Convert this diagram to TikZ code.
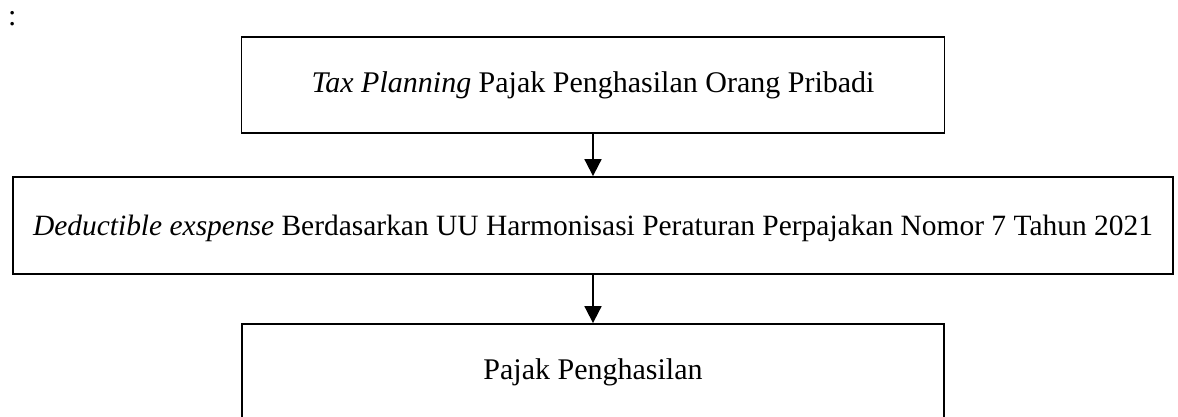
\documentclass[tikz,border=0pt]{standalone}
\usepackage{fontspec}
\setmainfont{Liberation Serif}
\usetikzlibrary{arrows.meta}
\begin{document}
\begin{tikzpicture}[x=1pt,y=-1pt,
  flowbox/.style={draw=black,line width=1.8pt,rectangle,inner sep=0pt,
    font=\fontsize{30}{36}\selectfont,align=center},
  flowarrow/.style={line width=1.8pt,-{Triangle[width=17pt,length=17pt]}}]
\clip (0,0) rectangle (1178,417);
\useasboundingbox (0,0) rectangle (1178,417);
\node[anchor=base west,inner sep=0pt,font=\fontsize{30}{36}\selectfont] (colon) at (8,26) {:};
\node[flowbox,minimum width=703pt,minimum height=96pt] (b1) at (593,85) {\textit{Tax Planning} Pajak Penghasilan Orang Pribadi};
\node[flowbox,minimum width=1160pt,minimum height=97pt,font=\fontsize{29.45}{36}\selectfont] (b2) at (593,225.5) {\rule{0pt}{26pt}\textit{Deductible exspense} Berdasarkan UU Harmonisasi Peraturan Perpajakan Nomor 7 Tahun 2021};
\node[flowbox,minimum width=702pt,minimum height=96pt] (b3) at (593,372) {Pajak Penghasilan};
\draw[flowarrow] (b1.south) -- (b2.north);
\draw[flowarrow] (b2.south) -- (b3.north);
\end{tikzpicture}
\end{document}
